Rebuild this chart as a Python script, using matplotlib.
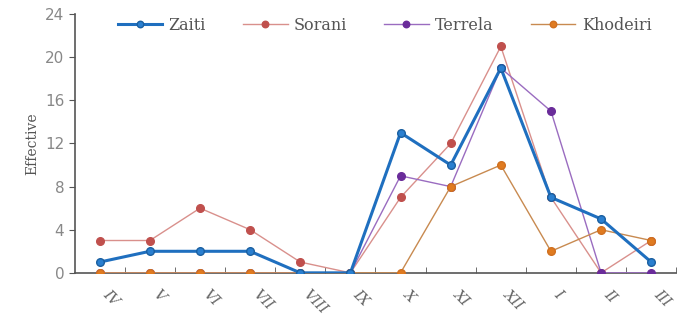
import matplotlib
matplotlib.use("Agg")
import matplotlib.pyplot as plt

months = ["IV", "V", "VI", "VII", "VIII", "IX", "X", "XI", "XII", "I", "II", "III"]
zaiti = [1, 2, 2, 2, 0, 0, 13, 10, 19, 7, 5, 1]
sorani = [3, 3, 6, 4, 1, 0, 7, 12, 21, 7, 0, 3]
terrela = [0, 0, 0, 0, 0, 0, 9, 8, 19, 15, 0, 0]
khodeiri = [0, 0, 0, 0, 0, 0, 0, 8, 10, 2, 4, 3]
yticks = [0, 4, 8, 12, 16, 20, 24]

plt.rcParams['font.family'] = ['DejaVu Serif']
fig = plt.figure(figsize=(6.79, 3.21), dpi=100)
ax = fig.add_axes([0.110, 0.150, 0.886, 0.806])
x = list(range(len(months)))

ax.plot(x, zaiti, color="#1f6fbf", lw=2.2, marker="o", ms=5.5, mfc="#2a7fd0", mec="#1a5fa0", label="Zaiti", zorder=4)
ax.plot(x, sorani, color="#d9908c", lw=1.0, marker="o", ms=5.5, mfc="#c0504d", mec="#c0504d", label="Sorani", zorder=3)
ax.plot(x, terrela, color="#9a6cc0", lw=1.0, marker="o", ms=5.5, mfc="#6a2c9a", mec="#6a2c9a", label="Terrela", zorder=3)
ax.plot(x, khodeiri, color="#c88a50", lw=1.0, marker="o", ms=5.5, mfc="#e07b20", mec="#d07020", label="Khodeiri", zorder=3)

ax.set_xlim(-0.5, len(months) - 0.5)
ax.set_ylim(0, 24)
ax.set_yticks(yticks)
ax.set_yticklabels([str(v) for v in yticks], color="#888888", fontsize=11, family="DejaVu Sans")
ax.set_xticks(x)
ax.set_xticklabels(months, rotation=-45, ha="left", fontsize=10.5, color="#666666", style="italic")
ax.tick_params(axis="x", length=0, pad=10)
ax.set_xticks([i + 0.5 for i in x], minor=True)
ax.tick_params(axis="x", which="minor", length=4, direction="in", color="#555555")
ax.tick_params(axis="y", length=4, direction="out", color="#555555")
ax.set_ylabel("Effective", fontsize=10, color="#555555")
for s in ["top", "right"]:
    ax.spines[s].set_visible(False)
ax.spines["left"].set_color("#555555")
ax.spines["bottom"].set_color("#555555")
ax.spines["left"].set_linewidth(1.2)
ax.spines["bottom"].set_linewidth(1.2)

ax.legend(loc="upper center", bbox_to_anchor=(0.515, 1.045), ncol=4, frameon=False, fontsize=11.5,
          handlelength=2.8, handletextpad=0.4, columnspacing=2.3, labelcolor="#555555", markerscale=0.85)

fig.savefig("out.png", dpi=100)
